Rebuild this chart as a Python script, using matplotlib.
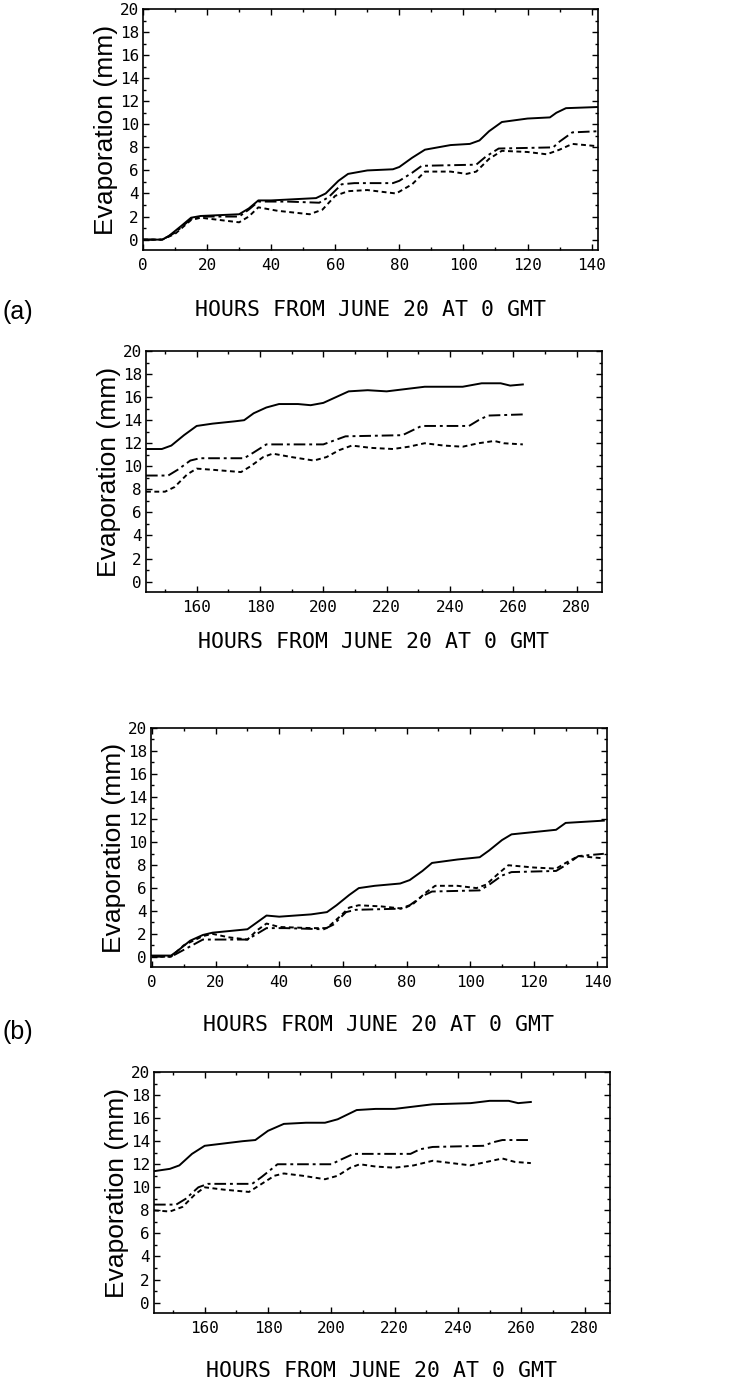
import matplotlib
matplotlib.use("Agg")
import matplotlib.pyplot as plt
from matplotlib.ticker import MultipleLocator

# ---------------- data ----------------
# (a) upper panel: hours 0-142
a1_solid_h = [0, 6, 8, 12, 15, 18, 30, 33, 36, 40, 54, 57, 61, 64, 70, 78, 80, 84, 88, 96, 102, 105, 108, 112, 120, 127, 129, 132, 142]
a1_solid = [0.0, 0.0, 0.3, 1.2, 1.9, 2.05, 2.2, 2.7, 3.4, 3.4, 3.6, 4.0, 5.1, 5.7, 6.0, 6.1, 6.3, 7.1, 7.8, 8.2, 8.3, 8.6, 9.4, 10.2, 10.5, 10.6, 11.0, 11.4, 11.5]
a1_dash_h = [0, 6, 10, 15, 18, 30, 33, 36, 45, 55, 58, 62, 66, 78, 80, 84, 87, 104, 107, 111, 128, 130, 134, 142]
a1_dash = [0.0, 0.0, 0.6, 1.8, 2.0, 2.0, 2.6, 3.3, 3.3, 3.2, 3.7, 4.8, 4.9, 4.9, 5.1, 5.8, 6.4, 6.5, 7.2, 7.9, 8.0, 8.5, 9.3, 9.4]
a1_dot_h = [0, 6, 10, 15, 18, 24, 30, 33, 36, 42, 52, 56, 60, 64, 70, 79, 84, 88, 96, 101, 104, 108, 112, 120, 126, 130, 134, 142]
a1_dot = [0.0, 0.0, 0.5, 1.7, 1.9, 1.7, 1.5, 2.0, 2.8, 2.5, 2.2, 2.6, 3.8, 4.2, 4.3, 4.0, 4.8, 5.9, 5.9, 5.7, 5.9, 7.0, 7.7, 7.6, 7.4, 7.8, 8.3, 8.1]

# (a) lower panel: hours 144-263
a2_solid_h = [144, 149, 152, 156, 160, 165, 172, 175, 178, 182, 186, 192, 196, 200, 204, 208, 214, 220, 226, 232, 244, 250, 256, 259, 263]
a2_solid = [11.5, 11.5, 11.8, 12.7, 13.5, 13.7, 13.9, 14.0, 14.6, 15.1, 15.4, 15.4, 15.3, 15.5, 16.0, 16.5, 16.6, 16.5, 16.7, 16.9, 16.9, 17.2, 17.2, 17.0, 17.1]
a2_dash_h = [144, 151, 154, 158, 161, 175, 178, 182, 200, 203, 207, 225, 228, 231, 246, 249, 252, 263]
a2_dash = [9.2, 9.2, 9.7, 10.5, 10.7, 10.7, 11.2, 11.9, 11.9, 12.2, 12.6, 12.7, 13.1, 13.5, 13.5, 14.0, 14.4, 14.5]
a2_dot_h = [144, 150, 153, 157, 160, 165, 174, 177, 181, 184, 190, 197, 201, 205, 209, 215, 222, 227, 232, 238, 244, 249, 254, 257, 263]
a2_dot = [7.8, 7.8, 8.2, 9.3, 9.8, 9.7, 9.5, 10.0, 10.8, 11.1, 10.8, 10.5, 10.8, 11.4, 11.8, 11.6, 11.5, 11.7, 12.0, 11.8, 11.7, 12.0, 12.2, 12.0, 11.9]

# (b) upper panel
b1_solid_h = [0, 6, 8, 12, 16, 19, 30, 33, 36, 40, 50, 55, 58, 62, 65, 70, 78, 81, 85, 88, 96, 103, 106, 110, 113, 120, 127, 130, 142]
b1_solid = [0.1, 0.1, 0.5, 1.4, 1.9, 2.1, 2.4, 3.0, 3.6, 3.5, 3.7, 3.9, 4.5, 5.4, 6.0, 6.2, 6.4, 6.7, 7.5, 8.2, 8.5, 8.7, 9.3, 10.2, 10.7, 10.9, 11.1, 11.7, 11.9]
b1_dash_h = [0, 6, 10, 16, 24, 30, 33, 36, 42, 54, 57, 61, 64, 78, 81, 85, 88, 103, 106, 110, 113, 127, 130, 134, 142]
b1_dash = [0.0, 0.0, 0.6, 1.5, 1.5, 1.5, 2.0, 2.5, 2.5, 2.4, 2.8, 3.9, 4.1, 4.2, 4.5, 5.3, 5.7, 5.8, 6.3, 7.1, 7.4, 7.5, 8.0, 8.8, 9.0]
b1_dot_h = [0, 6, 10, 16, 19, 24, 30, 33, 36, 40, 50, 55, 59, 62, 65, 72, 79, 82, 86, 89, 96, 102, 105, 109, 112, 120, 127, 130, 134, 138, 142]
b1_dot = [0.0, 0.0, 1.0, 1.8, 2.0, 1.7, 1.5, 2.3, 2.9, 2.6, 2.5, 2.5, 3.5, 4.3, 4.5, 4.4, 4.2, 4.6, 5.6, 6.2, 6.2, 6.0, 6.3, 7.3, 8.0, 7.8, 7.7, 8.2, 8.8, 8.7, 8.6]

# (b) lower panel
b2_solid_h = [144, 149, 152, 156, 160, 166, 172, 176, 180, 185, 192, 198, 202, 208, 214, 220, 226, 232, 244, 250, 256, 259, 263]
b2_solid = [11.4, 11.6, 11.9, 12.9, 13.6, 13.8, 14.0, 14.1, 14.9, 15.5, 15.6, 15.6, 15.9, 16.7, 16.8, 16.8, 17.0, 17.2, 17.3, 17.5, 17.5, 17.3, 17.4]
b2_dash_h = [144, 151, 154, 158, 161, 175, 178, 183, 200, 203, 207, 225, 228, 232, 248, 251, 254, 263]
b2_dash = [8.5, 8.5, 9.0, 10.0, 10.3, 10.3, 10.9, 12.0, 12.0, 12.4, 12.9, 12.9, 13.3, 13.5, 13.6, 13.9, 14.1, 14.1]
b2_dot_h = [144, 149, 153, 157, 160, 166, 174, 178, 182, 185, 191, 198, 202, 206, 209, 214, 220, 226, 232, 238, 244, 249, 254, 258, 263]
b2_dot = [8.0, 7.9, 8.3, 9.4, 10.0, 9.8, 9.6, 10.3, 11.0, 11.2, 11.0, 10.7, 11.0, 11.7, 12.0, 11.8, 11.7, 11.9, 12.3, 12.1, 11.9, 12.2, 12.5, 12.2, 12.1]

xlabel_text = "HOURS FROM JUNE 20 AT 0 GMT"
ylabel_text = "Evaporation (mm)"

W, H = 737, 1381
fig = plt.figure(figsize=(W / 100, H / 100), dpi=100)

# pixel boxes: left, right, top, bottom
boxes = [(143, 598, 9, 250), (146, 602, 351, 592), (151, 607, 728, 967), (154, 610, 1072, 1313)]
xlims = [(0, 142), (144, 288), (-0.3, 143), (144, 288)]
xtick_sets = [range(0, 141, 20), range(160, 281, 20), range(0, 141, 20), range(160, 281, 20)]
labelpads = [19, 12, 18, 18]
panels = [
    (a1_solid_h, a1_solid, a1_dash_h, a1_dash, a1_dot_h, a1_dot),
    (a2_solid_h, a2_solid, a2_dash_h, a2_dash, a2_dot_h, a2_dot),
    (b1_solid_h, b1_solid, b1_dash_h, b1_dash, b1_dot_h, b1_dot),
    (b2_solid_h, b2_solid, b2_dash_h, b2_dash, b2_dot_h, b2_dot),
]

mono = "DejaVu Sans Mono"
for i, (box, data) in enumerate(zip(boxes, panels)):
    l, r, t, b = box
    ax = fig.add_axes([l / W, 1 - b / H, (r - l) / W, (b - t) / H])
    sh, s, dh, d, oh, o = data
    ax.plot(sh, s, color="black", lw=1.4)
    ax.plot(dh, d, color="black", lw=1.4, dashes=(6, 2, 1.5, 2))
    ax.plot(oh, o, color="black", lw=1.4, dashes=(2.5, 1.8))

    ax.set_xlim(*xlims[i])
    ax.set_ylim(-0.9, 20)
    ax.set_xticks(list(xtick_sets[i]))
    ax.set_yticks(range(0, 21, 2))
    ax.xaxis.set_minor_locator(MultipleLocator(10))
    ax.yaxis.set_minor_locator(MultipleLocator(1))
    ax.tick_params(which="both", direction="in", top=True, right=True, width=1.0)
    ax.tick_params(which="major", length=4, labelsize=11.5, pad=6)
    ax.tick_params(which="minor", length=2)
    ax.tick_params(axis="y", pad=3)
    for lab in ax.get_xticklabels() + ax.get_yticklabels():
        lab.set_family(mono)
    for sp in ax.spines.values():
        sp.set_linewidth(1.2)

    ax.set_xlabel(xlabel_text, family=mono, fontsize=15.5, labelpad=labelpads[i])
    ax.set_ylabel(ylabel_text, family="Liberation Sans", fontsize=19, labelpad=1)

fig.text(2 / W, 1 - 312 / H, "(a)", family="Liberation Sans", fontsize=18, va="center", ha="left")
fig.text(2 / W, 1 - 1032 / H, "(b)", family="Liberation Sans", fontsize=18, va="center", ha="left")

fig.savefig("out.png", dpi=100)
